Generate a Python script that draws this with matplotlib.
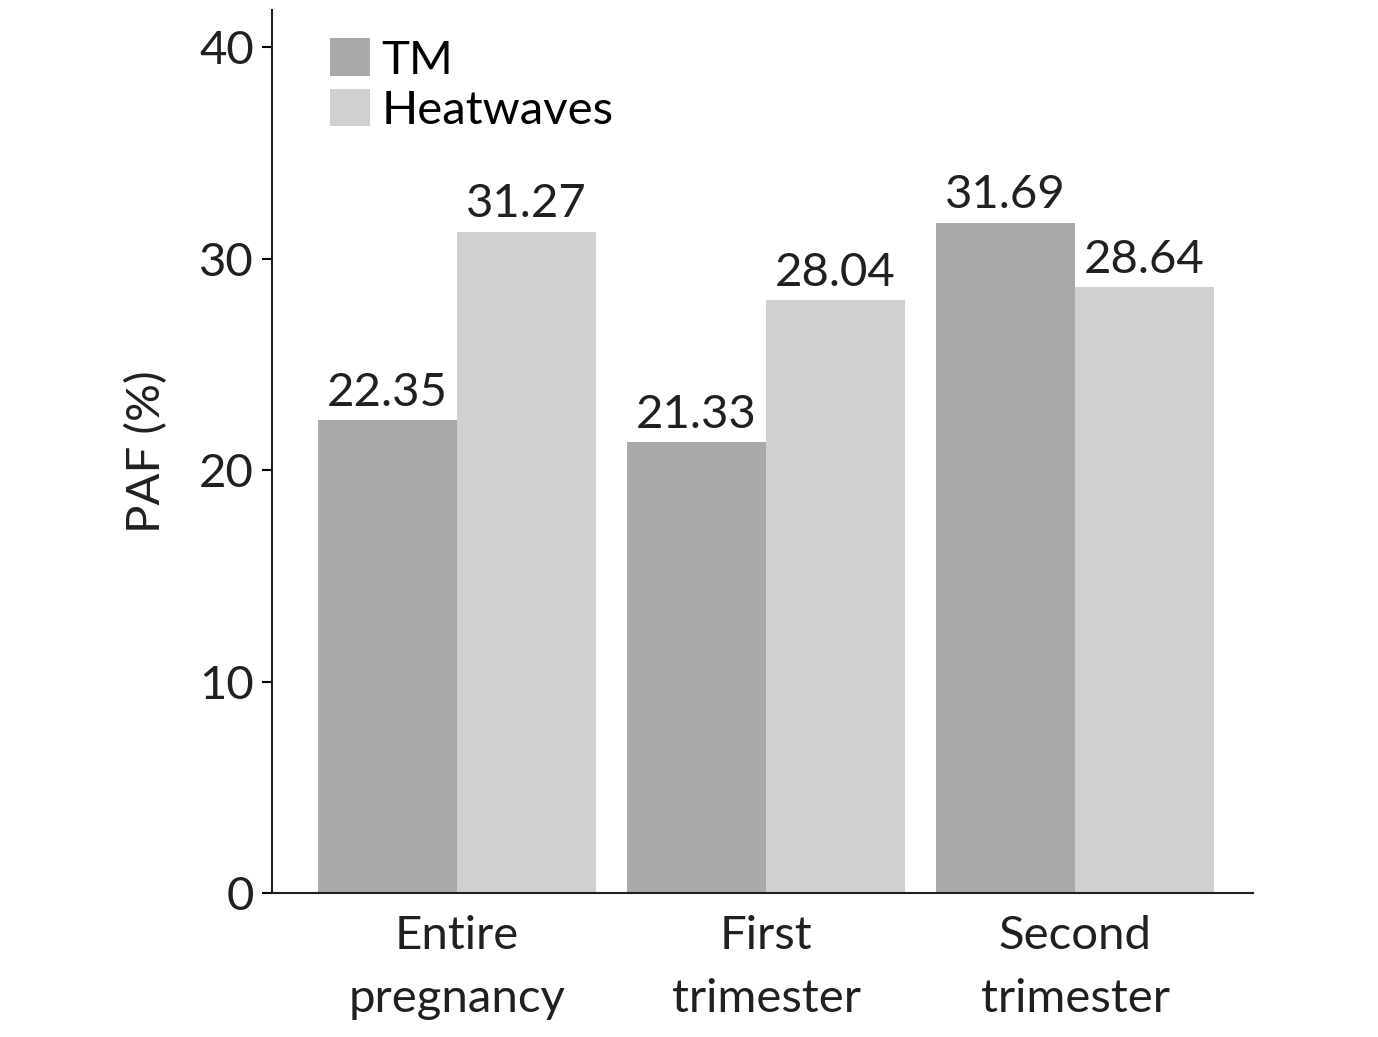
import numpy as np
import matplotlib
matplotlib.use('Agg')
import matplotlib.pyplot as plt

# data
categories = ['Entire\npregnancy', 'First\ntrimester', 'Second\ntrimester']
tm_values = [22.35, 21.33, 31.69]
heatwave_values = [31.27, 28.04, 28.64]
y_ticks = [0, 10, 20, 30, 40]

plt.rcParams['font.family'] = ['Lato', 'DejaVu Sans']
FS = 34

fig = plt.figure(figsize=(13.78, 10.37), dpi=100)
ax = fig.add_axes([272 / 1378, 1 - 893 / 1037, (1253 - 272) / 1378, (893 - 10) / 1037])

x = np.arange(len(categories))
w = 0.45
b1 = ax.bar(x - w / 2, tm_values, w, color='#aaa8a9', label='TM')
b2 = ax.bar(x + w / 2, heatwave_values, w, color='#d0d0d0', label='Heatwaves')

for bars, vals in [(b1, tm_values), (b2, heatwave_values)]:
    for rect, v in zip(bars, vals):
        ax.text(rect.get_x() + rect.get_width() / 2, v + 0.3, f'{v:.2f}',
                ha='center', va='bottom', fontsize=FS, color='#231f20')

ax.set_xlim(-0.599, 2.576)
ax.set_ylim(0, 41.75)
ax.set_yticks(y_ticks)
ax.set_xticks(x)
ax.set_xticklabels(categories, fontsize=FS, color='#231f20', linespacing=1.6)
ax.tick_params(axis='x', length=0, pad=16)
ax.tick_params(axis='y', labelsize=FS, labelcolor='#231f20', length=7, width=1.5, pad=6)
ax.set_ylabel('PAF (%)', fontsize=FS, color='#231f20', labelpad=22)

for s in ['top', 'right']:
    ax.spines[s].set_visible(False)
for s in ['left', 'bottom']:
    ax.spines[s].set_linewidth(1.5)
    ax.spines[s].set_color('#231f20')

ax.legend(loc='upper left', bbox_to_anchor=(0.03, 1.0), frameon=False, fontsize=FS,
          handlelength=0.85, handleheight=0.85, handletextpad=0.25, labelspacing=0.15,
          borderaxespad=0.2)

fig.savefig('out.png', dpi=100)
